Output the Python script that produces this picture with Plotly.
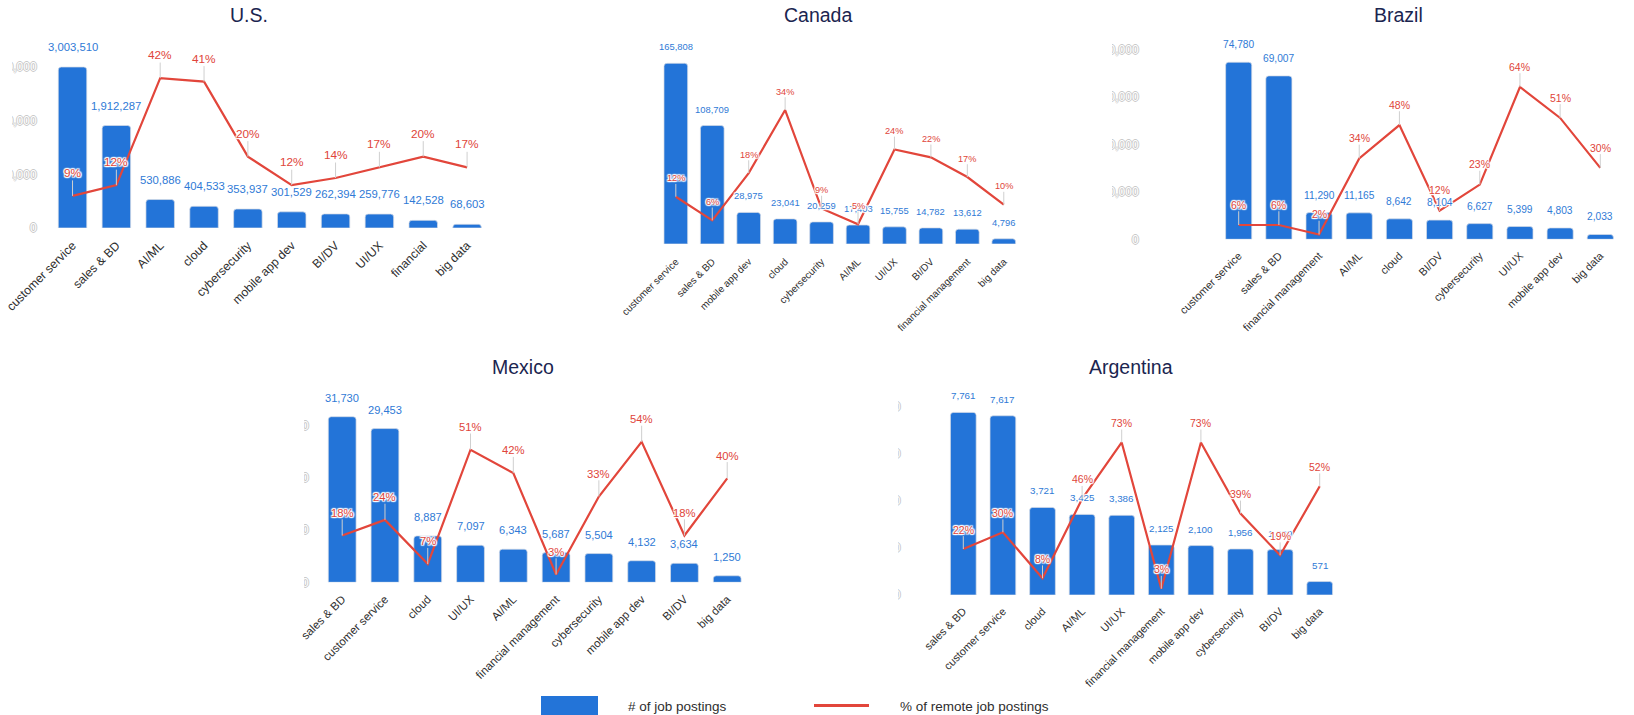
import plotly.graph_objects as go

# ---- data -------------------------------------------------------------
us_roles = ["customer service", "sales & BD", "AI/ML", "cloud", "cybersecurity",
            "mobile app dev", "BI/DV", "UI/UX", "financial", "big data"]
us_jobs = [3003510, 1912287, 530886, 404533, 353937, 301529, 262394, 259776, 142528, 68603]
us_remote = [9, 12, 42, 41, 20, 12, 14, 17, 20, 17]
us_ticks = [0, 1000000, 2000000, 3000000]

ca_roles = ["customer service", "sales & BD", "mobile app dev", "cloud", "cybersecurity",
            "AI/ML", "UI/UX", "BI/DV", "financial management", "big data"]
ca_jobs = [165808, 108709, 28975, 23041, 20259, 17403, 15755, 14782, 13612, 4796]
ca_remote = [12, 6, 18, 34, 9, 5, 24, 22, 17, 10]
ca_ticks = []

br_roles = ["customer service", "sales & BD", "financial management", "AI/ML", "cloud",
            "BI/DV", "cybersecurity", "UI/UX", "mobile app dev", "big data"]
br_jobs = [74780, 69007, 11290, 11165, 8642, 8104, 6627, 5399, 4803, 2033]
br_remote = [6, 6, 2, 34, 48, 12, 23, 64, 51, 30]
br_ticks = [0, 20000, 40000, 60000, 80000]

mx_roles = ["sales & BD", "customer service", "cloud", "UI/UX", "AI/ML",
            "financial management", "cybersecurity", "mobile app dev", "BI/DV", "big data"]
mx_jobs = [31730, 29453, 8887, 7097, 6343, 5687, 5504, 4132, 3634, 1250]
mx_remote = [18, 24, 7, 51, 42, 3, 33, 54, 18, 40]
mx_ticks = [0, 10000, 20000, 30000]

ar_roles = ["sales & BD", "customer service", "cloud", "AI/ML", "UI/UX",
            "financial management", "mobile app dev", "cybersecurity", "BI/DV", "big data"]
ar_jobs = [7761, 7617, 3721, 3425, 3386, 2125, 2100, 1956, 1929, 571]
ar_remote = [22, 30, 8, 46, 73, 3, 73, 39, 19, 52]
ar_ticks = [0, 2000, 4000, 6000, 8000]

countries = ["U.S.", "Canada", "Brazil", "Mexico", "Argentina"]
roles = [us_roles, ca_roles, br_roles, mx_roles, ar_roles]
jobs = [us_jobs, ca_jobs, br_jobs, mx_jobs, ar_jobs]
remote = [us_remote, ca_remote, br_remote, mx_remote, ar_remote]
yticks = [us_ticks, ca_ticks, br_ticks, mx_ticks, ar_ticks]

# ---- styling / layout (pixel geometry of each panel) ------------------
W, H = 1634, 715
FONT = "'Liberation Sans', Arial, sans-serif"
BAR = "#2374d8"
LINE = "#e2463b"
BLUE_TXT = "#2f7ad6"
RED_TXT = "#e0453a"
TITLE = "#1b2550"
AXIS_TXT = "#2e2e2e"
HALO = ("1px 1px 1px #fff, -1px -1px 1px #fff, 1px -1px 1px #fff, -1px 1px 1px #fff,"
        " 0 1px 1px #fff, 0 -1px 1px #fff, 1px 0 1px #fff, -1px 0 1px #fff")
HOLLOW = "1px 0 0 #c9c9c9, -1px 0 0 #c9c9c9, 0 1px 0 #c9c9c9, 0 -1px 0 #c9c9c9"

panels = [
    # left, right, base, top (px), px per count, px per pct, tick-label standoffs
    dict(l=50.6, r=489.0, b=228.0, t=56.0, ppu=53.6e-6, ppp=3.57, off=13, xoff=7,
         xs=12.2, vs=11.3, ps=11.8, vshift=20, pshift=23, title=(249, 15)),
    dict(l=657.6, r=1022.0, b=244.0, t=47.0, ppu=1 / 917.6, ppp=3.94, off=0, xoff=9,
         xs=10, vs=9.4, ps=9.2, vshift=16.5, pshift=18.3, title=(818.3, 15)),
    dict(l=1218.6, r=1620.4, b=239.3, t=26.0, ppu=1 / 422.3, ppp=2.38, off=79, xoff=7,
         xs=10.9, vs=10.2, ps=10.5, vshift=17.5, pshift=20.3, title=(1398.3, 15)),
    dict(l=320.8, r=748.6, b=582.3, t=373.0, ppu=1 / 191.6, ppp=2.6, off=11, xoff=7,
         xs=11.5, vs=11.1, ps=11.3, vshift=19, pshift=22.7, title=(522.7, 366.5)),
    dict(l=943.5, r=1339.5, b=595.0, t=383.0, ppu=1 / 42.5, ppp=2.09, off=42, xoff=7,
         xs=10.9, vs=9.8, ps=10.5, vshift=16.5, pshift=19.4, title=(1130.8, 366.5)),
]


def px_x(v):
    return v / W


def px_y(v):
    return 1 - v / H


fig = go.Figure()
annotations = []
layout = {}

for i, (name, cats, counts, pct, ticks, p) in enumerate(
        zip(countries, roles, jobs, remote, yticks, panels), start=1):
    xa = "x" if i == 1 else f"x{i}"
    ya = "y" if i == 1 else f"y{i}"
    ya2 = f"y{i + 5}"

    fig.add_trace(go.Bar(
        x=cats, y=counts, xaxis=xa, yaxis=ya, name="# of job postings",
        marker=dict(color=BAR, line=dict(color="rgba(215,220,230,0.9)", width=0.8)),
        showlegend=False, hoverinfo="x+y",
    ))
    fig.add_trace(go.Scatter(
        x=cats, y=pct, xaxis=xa, yaxis=ya2, mode="lines", name="% of remote job postings",
        line=dict(color=LINE, width=2.2), showlegend=False,
    ))

    height_px = p["b"] - p["t"]
    xdom = [px_x(p["l"]), px_x(p["r"])]
    ydom = [px_y(p["b"]), px_y(p["t"])]

    layout["xaxis" if i == 1 else f"xaxis{i}"] = dict(
        domain=xdom, anchor=ya, type="category", range=[-0.5, len(cats) - 0.5],
        tickangle=-45, ticklabelstandoff=p["xoff"],
        tickfont=dict(size=p["xs"], color=AXIS_TXT, family=FONT),
        showgrid=False, zeroline=False, showline=False, ticks="", automargin=False,
    )
    yprim = dict(
        domain=ydom, anchor=xa, range=[0, height_px / p["ppu"]], automargin=False,
        showgrid=False, zeroline=False, showline=False, ticks="",
    )
    if ticks:
        yprim.update(tickmode="array", tickvals=ticks, tickformat=",", showticklabels=True,
                     ticklabelstandoff=p["off"],
                     tickfont=dict(size=12, color="#ffffff", family=FONT, shadow=HOLLOW))
    else:
        yprim.update(showticklabels=False)
    layout["yaxis" if i == 1 else f"yaxis{i}"] = yprim
    layout[f"yaxis{i + 5}"] = dict(
        overlaying=ya, anchor=xa, range=[0, height_px / p["ppp"]], visible=False,
        showgrid=False, zeroline=False, automargin=False,
    )

    # job-count labels above each bar
    for c, v in zip(cats, counts):
        annotations.append(dict(
            x=c, y=v, xref=xa, yref=ya, text=f"{v:,}", showarrow=False,
            yanchor="middle", yshift=p["vshift"],
            font=dict(size=p["vs"], color=BLUE_TXT, family=FONT, shadow=HALO),
        ))
    # remote-share labels with leader lines
    for c, v in zip(cats, pct):
        annotations.append(dict(
            x=c, y=v, xref=xa, yref=ya2, text=f"{v}%", showarrow=True,
            arrowhead=0, arrowwidth=1, arrowcolor="#cfcfcf", ax=0, ay=-p["pshift"],
            standoff=0, startstandoff=0, borderpad=0,
            font=dict(size=p["ps"], color=RED_TXT, family=FONT, shadow=HALO),
        ))
    # panel title
    tx, ty = p["title"]
    annotations.append(dict(
        x=px_x(tx), y=px_y(ty), xref="paper", yref="paper", text=name, showarrow=False,
        xanchor="center", yanchor="middle",
        font=dict(size=19.5, color=TITLE, family=FONT),
    ))

# legend, drawn as shapes + text
shapes = [
    dict(type="rect", xref="paper", yref="paper", x0=px_x(541), x1=px_x(598),
         y0=px_y(720), y1=px_y(696), fillcolor=BAR, line=dict(width=0), layer="above"),
    dict(type="line", xref="paper", yref="paper", x0=px_x(814), x1=px_x(869),
         y0=px_y(705.5), y1=px_y(705.5), line=dict(color=LINE, width=3), layer="above"),
]
annotations.append(dict(x=px_x(626), y=px_y(706), xref="paper", yref="paper",
                        text="# of job postings", showarrow=False, xanchor="left",
                        yanchor="middle", font=dict(size=13.5, color=AXIS_TXT, family=FONT)))
annotations.append(dict(x=px_x(898), y=px_y(706), xref="paper", yref="paper",
                        text="% of remote job postings", showarrow=False, xanchor="left",
                        yanchor="middle", font=dict(size=13.5, color=AXIS_TXT, family=FONT)))

# white panels trimming the value-axis labels at each chart's edge
for x0, x1, y0, y1 in [(0, 12, 40, 240), (1030, 1112, 0, 255),
                       (230, 304, 370, 600), (850, 898, 370, 610)]:
    shapes.append(dict(type="rect", xref="paper", yref="paper",
                       x0=px_x(x0), x1=px_x(x1), y0=px_y(y1), y1=px_y(y0),
                       fillcolor="white", line=dict(width=0), layer="above"))

fig.update_layout(
    width=W, height=H, autosize=False,
    margin=dict(l=0, r=0, t=0, b=0, autoexpand=False),
    paper_bgcolor="white", plot_bgcolor="white",
    bargap=0.35, barcornerradius=3,
    font=dict(family=FONT, color=AXIS_TXT),
    annotations=annotations, shapes=shapes, showlegend=False,
    **layout,
)

fig.write_html("out.html")
